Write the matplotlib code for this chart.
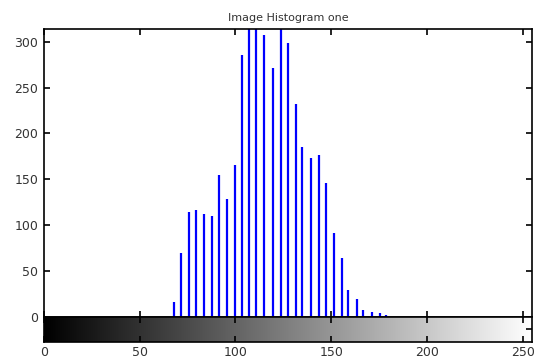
import numpy as np
import matplotlib
matplotlib.use("Agg")
import matplotlib.pyplot as plt

# histogram stems (gray level, pixel count)
levels = [68.0, 71.4, 75.7, 79.2, 83.6, 87.6, 91.2, 95.4, 99.7, 103.2,
          107.2, 110.9, 115.0, 119.4, 123.8, 127.3, 131.6, 134.9, 139.3, 143.6,
          147.1, 151.4, 155.6, 158.9, 163.3, 166.7, 171.1, 175.5, 178.7]
counts = [16, 69, 114, 116, 112, 110, 155, 128, 166, 286,
          330, 330, 308, 271, 330, 299, 232, 185, 173, 176,
          146, 91, 64, 29, 19, 7, 5, 4, 2]
xticks = [0, 50, 100, 150, 200, 250]
yticks = [0, 50, 100, 150, 200, 250, 300]
title = "Image Histogram one"

plt.rcParams['font.family'] = 'DejaVu Sans'
fig = plt.figure(figsize=(5.38, 3.6), dpi=100)

# main histogram axes
ax = fig.add_axes([0.0818, 0.1203, 0.9076, 0.7991])
ax.vlines(levels, 0, counts, colors='#0000ff', linewidth=1.6)
ax.set_xlim(0, 255)
ax.set_ylim(0, 314)
ax.set_xticks(xticks)
ax.set_yticks(yticks)
ax.set_xticklabels([])
ax.tick_params(direction='in', length=4, width=1.2, top=True, right=True,
               labelsize=9, labelcolor='#333333', pad=4)
for s in ax.spines.values():
    s.set_linewidth(1.2)
ax.set_title(title, fontsize=8, color='#333333', pad=6)

# gray level bar under the plot
cb = fig.add_axes([0.0818, 0.0508, 0.9076, 0.0694])
grad = np.linspace(0, 1, 256).reshape(1, -1)
cb.imshow(grad, cmap='gray', aspect='auto', extent=[0, 255, 0, 1], vmin=0, vmax=1)
cb.set_xlim(0, 255)
cb.set_ylim(0, 1)
cb.set_xticks(xticks)
cb.set_yticks([0.5])
cb.set_yticklabels([])
cb.tick_params(direction='in', length=4, width=1.2, top=True, right=True,
               labelsize=9, labelcolor='#333333', pad=3)
for s in cb.spines.values():
    s.set_linewidth(1.2)

fig.savefig("out.png", dpi=100)
